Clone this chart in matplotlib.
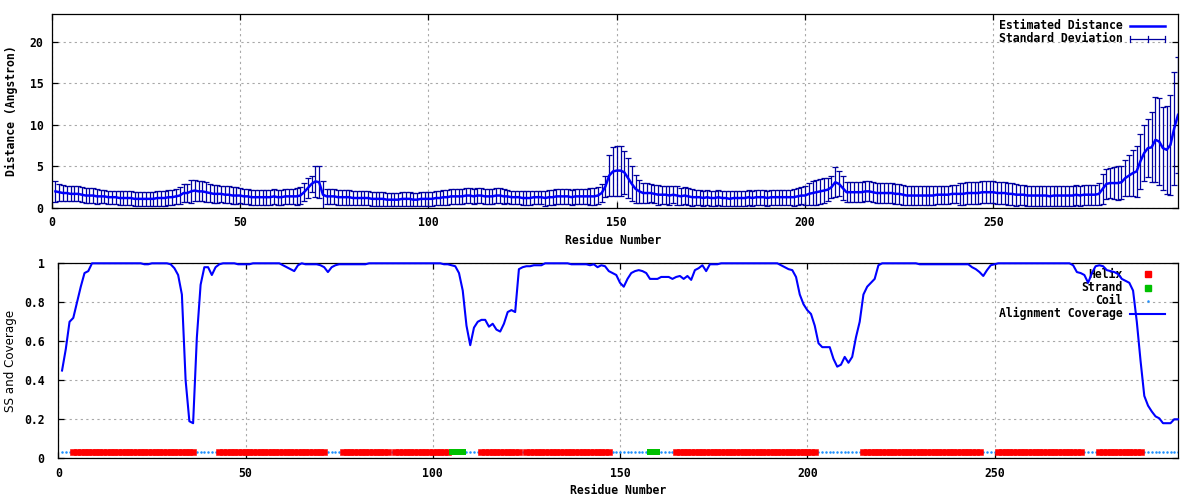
import numpy as np
import matplotlib
matplotlib.use("Agg")
import matplotlib.pyplot as plt
from matplotlib.lines import Line2D

# ---------------- data ----------------
distance = [
    2.0, 1.9, 1.8, 1.8, 1.7, 1.7, 1.7, 1.6, 1.5, 1.5,
    1.5, 1.4, 1.4, 1.4, 1.3, 1.3, 1.3, 1.2, 1.2, 1.2,
    1.2, 1.1, 1.1, 1.1, 1.1, 1.1, 1.1, 1.2, 1.2, 1.2,
    1.3, 1.3, 1.4, 1.5, 1.8, 1.8, 2.0, 2.1, 2.0, 2.0,
    1.9, 1.8, 1.7, 1.7, 1.7, 1.6, 1.6, 1.5, 1.5, 1.5,
    1.4, 1.4, 1.3, 1.3, 1.3, 1.3, 1.3, 1.3, 1.4, 1.3,
    1.3, 1.4, 1.4, 1.4, 1.4, 1.5, 1.9, 2.4, 2.9, 3.2,
    3.1, 1.6, 1.4, 1.4, 1.4, 1.3, 1.3, 1.3, 1.3, 1.2,
    1.2, 1.2, 1.2, 1.2, 1.1, 1.1, 1.1, 1.1, 1.0, 1.0,
    1.0, 1.0, 1.1, 1.1, 1.1, 1.0, 1.0, 1.1, 1.1, 1.1,
    1.1, 1.2, 1.2, 1.3, 1.3, 1.4, 1.4, 1.4, 1.4, 1.5,
    1.5, 1.4, 1.5, 1.5, 1.4, 1.4, 1.4, 1.5, 1.5, 1.4,
    1.4, 1.3, 1.3, 1.3, 1.2, 1.2, 1.2, 1.3, 1.3, 1.3,
    1.2, 1.3, 1.3, 1.4, 1.4, 1.4, 1.4, 1.3, 1.4, 1.4,
    1.4, 1.4, 1.4, 1.4, 1.5, 1.8, 2.6, 3.9, 4.4, 4.5,
    4.5, 4.3, 3.6, 2.9, 2.3, 2.0, 1.8, 1.8, 1.8, 1.7,
    1.6, 1.6, 1.6, 1.5, 1.6, 1.5, 1.4, 1.5, 1.4, 1.3,
    1.3, 1.3, 1.2, 1.3, 1.2, 1.2, 1.3, 1.2, 1.2, 1.1,
    1.2, 1.2, 1.2, 1.2, 1.3, 1.2, 1.3, 1.3, 1.3, 1.2,
    1.3, 1.3, 1.3, 1.3, 1.3, 1.3, 1.3, 1.4, 1.5, 1.5,
    1.7, 1.8, 1.9, 2.0, 2.1, 2.2, 2.5, 3.1, 2.9, 2.4,
    1.9, 1.9, 1.9, 1.9, 1.9, 2.0, 2.0, 1.9, 1.8, 1.8,
    1.8, 1.8, 1.8, 1.7, 1.7, 1.6, 1.5, 1.5, 1.5, 1.5,
    1.5, 1.5, 1.5, 1.5, 1.6, 1.6, 1.6, 1.6, 1.7, 1.7,
    1.7, 1.7, 1.8, 1.8, 1.8, 1.8, 1.9, 1.9, 1.9, 1.9,
    1.8, 1.8, 1.8, 1.7, 1.7, 1.6, 1.6, 1.6, 1.5, 1.5,
    1.5, 1.5, 1.5, 1.5, 1.4, 1.5, 1.5, 1.5, 1.5, 1.5,
    1.5, 1.6, 1.5, 1.6, 1.6, 1.6, 1.6, 1.7, 2.3, 2.9,
    3.0, 3.0, 3.0, 3.1, 3.6, 3.9, 4.2, 4.4, 5.6, 6.6,
    7.2, 7.3, 8.2, 8.0, 7.2, 7.0, 7.6, 9.6, 11.2,
]

std_dev = [
    1.3, 1.0, 1.0, 0.9, 0.9, 0.9, 0.9, 0.9, 0.9, 0.9,
    0.9, 0.9, 0.8, 0.8, 0.8, 0.8, 0.8, 0.8, 0.8, 0.8,
    0.8, 0.8, 0.8, 0.8, 0.8, 0.8, 0.8, 0.9, 0.9, 0.9,
    0.9, 0.9, 0.9, 1.0, 1.1, 1.1, 1.4, 1.3, 1.2, 1.2,
    1.2, 1.1, 1.1, 1.1, 1.0, 1.0, 1.0, 1.0, 1.0, 0.9,
    0.9, 0.9, 0.9, 0.9, 0.9, 0.9, 0.9, 0.9, 0.9, 0.9,
    0.9, 0.9, 0.9, 0.9, 1.0, 1.0, 1.1, 1.2, 1.0, 1.9,
    1.9, 1.7, 0.9, 0.9, 0.9, 0.9, 0.9, 0.9, 0.9, 0.8,
    0.8, 0.8, 0.8, 0.8, 0.8, 0.8, 0.8, 0.8, 0.8, 0.8,
    0.8, 0.8, 0.8, 0.8, 0.8, 0.8, 0.8, 0.8, 0.8, 0.8,
    0.8, 0.8, 0.8, 0.9, 0.9, 0.9, 0.9, 0.9, 0.9, 0.9,
    0.9, 0.9, 0.9, 0.9, 0.9, 0.9, 0.9, 0.9, 0.9, 0.9,
    0.8, 0.8, 0.8, 0.8, 0.8, 0.8, 0.8, 0.8, 0.8, 0.8,
    0.9, 0.9, 0.9, 0.9, 0.9, 0.9, 0.9, 0.9, 0.9, 0.9,
    0.9, 0.9, 1.0, 1.0, 1.0, 1.1, 1.3, 2.5, 2.9, 3.0,
    3.0, 2.6, 2.4, 2.1, 1.7, 1.4, 1.2, 1.2, 1.1, 1.1,
    1.2, 1.1, 1.1, 1.1, 1.0, 1.1, 1.0, 1.0, 1.0, 1.0,
    0.9, 0.9, 0.9, 0.9, 0.9, 0.9, 0.9, 0.9, 0.9, 0.9,
    0.9, 0.9, 0.9, 0.9, 0.9, 0.9, 0.9, 0.9, 0.9, 0.9,
    0.9, 0.9, 0.9, 0.9, 0.9, 0.9, 1.0, 1.0, 1.0, 1.1,
    1.3, 1.4, 1.5, 1.5, 1.5, 1.4, 1.3, 1.8, 1.5, 1.4,
    1.2, 1.2, 1.2, 1.2, 1.2, 1.2, 1.2, 1.2, 1.2, 1.2,
    1.2, 1.2, 1.2, 1.2, 1.2, 1.2, 1.1, 1.1, 1.1, 1.1,
    1.1, 1.1, 1.1, 1.1, 1.1, 1.1, 1.1, 1.1, 1.1, 1.1,
    1.3, 1.3, 1.3, 1.3, 1.3, 1.3, 1.3, 1.3, 1.3, 1.3,
    1.3, 1.3, 1.3, 1.3, 1.3, 1.3, 1.2, 1.2, 1.2, 1.2,
    1.2, 1.2, 1.2, 1.2, 1.2, 1.2, 1.2, 1.2, 1.2, 1.2,
    1.2, 1.2, 1.2, 1.2, 1.2, 1.2, 1.2, 1.3, 1.8, 1.8,
    1.8, 1.9, 2.0, 2.0, 2.2, 2.5, 2.8, 3.1, 3.3, 3.4,
    3.5, 4.2, 5.1, 5.2, 5.0, 5.3, 6.0, 6.8, 7.0,
]

coverage = [
    0.45, 0.56, 0.70, 0.72, 0.80, 0.88, 0.95, 0.96, 1.0, 1.0,
    1.0, 1.0, 1.0, 1.0, 1.0, 1.0, 1.0, 1.0, 1.0, 1.0,
    1.0, 1.0, 0.995, 0.995, 1.0, 1.0, 1.0, 1.0, 1.0, 0.995,
    0.975, 0.94, 0.84, 0.40, 0.19, 0.18, 0.62, 0.89, 0.98, 0.98,
    0.94, 0.98, 0.995, 1.0, 1.0, 1.0, 1.0, 0.995, 0.995, 0.995,
    0.995, 1.0, 1.0, 1.0, 1.0, 1.0, 1.0, 1.0, 1.0, 0.99,
    0.98, 0.97, 0.96, 0.99, 1.0, 0.995, 0.995, 0.995, 0.995, 0.99,
    0.98, 0.955, 0.98, 0.99, 0.995, 0.995, 0.995, 0.995, 0.995, 0.995,
    0.995, 0.995, 1.0, 1.0, 1.0, 1.0, 1.0, 1.0, 1.0, 1.0,
    1.0, 1.0, 1.0, 1.0, 1.0, 1.0, 1.0, 1.0, 1.0, 1.0,
    1.0, 1.0, 0.995, 0.995, 0.99, 0.985, 0.95, 0.86, 0.68, 0.58,
    0.67, 0.70, 0.71, 0.71, 0.675, 0.69, 0.66, 0.65, 0.69, 0.75,
    0.76, 0.75, 0.97, 0.98, 0.985, 0.985, 0.99, 0.99, 0.99, 1.0,
    1.0, 1.0, 1.0, 1.0, 1.0, 1.0, 0.995, 0.995, 0.995, 0.995,
    0.995, 0.99, 0.995, 0.98, 0.99, 0.985, 0.96, 0.95, 0.94, 0.90,
    0.88, 0.92, 0.95, 0.96, 0.965, 0.96, 0.95, 0.92, 0.92, 0.92,
    0.93, 0.93, 0.93, 0.92, 0.93, 0.935, 0.92, 0.935, 0.915, 0.965,
    0.975, 0.99, 0.96, 0.995, 0.995, 0.995, 1.0, 1.0, 1.0, 1.0,
    1.0, 1.0, 1.0, 1.0, 1.0, 1.0, 1.0, 1.0, 1.0, 1.0,
    1.0, 1.0, 0.99, 0.98, 0.97, 0.965, 0.93, 0.84, 0.79, 0.76,
    0.74, 0.68, 0.59, 0.57, 0.57, 0.57, 0.51, 0.47, 0.48, 0.52,
    0.49, 0.52, 0.62, 0.70, 0.84, 0.88, 0.90, 0.92, 0.99, 1.0,
    1.0, 1.0, 1.0, 1.0, 1.0, 1.0, 1.0, 1.0, 1.0, 0.995,
    0.995, 0.995, 0.995, 0.995, 0.995, 0.995, 0.995, 0.995, 0.995, 0.995,
    0.995, 0.995, 0.995, 0.98, 0.97, 0.955, 0.935, 0.965, 0.99, 0.995,
    1.0, 1.0, 1.0, 1.0, 1.0, 1.0, 1.0, 1.0, 1.0, 1.0,
    1.0, 1.0, 1.0, 1.0, 1.0, 1.0, 1.0, 1.0, 1.0, 1.0,
    0.99, 0.955, 0.95, 0.94, 0.90, 0.95, 0.985, 0.99, 0.985, 0.965,
    0.96, 0.955, 0.945, 0.92, 0.91, 0.90, 0.86, 0.70, 0.50, 0.32,
    0.27, 0.24, 0.215, 0.205, 0.18, 0.18, 0.18, 0.20, 0.20,
]

# secondary structure, run-length encoded (type, length)
ss_runs = [("C", 3), ("H", 33), ("C", 6), ("H", 29), ("C", 4), ("H", 13),
           ("C", 1), ("H", 15), ("E", 4), ("C", 4), ("H", 11), ("C", 1),
           ("H", 23), ("C", 10), ("E", 3), ("C", 4), ("H", 38), ("C", 12),
           ("H", 32), ("C", 4), ("H", 23), ("C", 4), ("H", 12), ("C", 10)]
ss_level = 0.03

x_ticks = [0, 50, 100, 150, 200, 250]
top_y_ticks = [0, 5, 10, 15, 20]
bot_y_ticks = [0, 0.2, 0.4, 0.6, 0.8, 1]
bot_y_labels = ["0", "0.2", "0.4", "0.6", "0.8", "1"]

# ---------------- styling ----------------
residues = np.arange(1, len(distance) + 1)
ss = "".join(t * n for t, n in ss_runs)
ss_arr = np.array(list(ss))
cov = np.array(coverage)

MONO = "DejaVu Sans Mono"
FS = 8.3
plt.rcParams["font.family"] = MONO
plt.rcParams["font.weight"] = "bold"
plt.rcParams["font.size"] = FS

fig = plt.figure(figsize=(12, 5), dpi=100)
W, H = 1200.0, 500.0

def axrect(l, t, r, b):
    return [l / W, 1 - b / H, (r - l) / W, (b - t) / H]

ax1 = fig.add_axes(axrect(51.7, 14.3, 1178, 208))
ax2 = fig.add_axes(axrect(58.3, 263.3, 1178, 458.3))

grid_kw = dict(color="#a8a8a8", linestyle=(0, (2, 3)), linewidth=0.8)

for ax in (ax1, ax2):
    for sp in ax.spines.values():
        sp.set_linewidth(0.9)
        sp.set_color("black")
    ax.tick_params(direction="in", length=4.5, width=0.9, top=True, right=True,
                   labelsize=FS, colors="black")
    ax.set_xticks(x_ticks)
    ax.grid(True, **grid_kw)
    ax.set_axisbelow(True)
    for lab in ax.get_xticklabels() + ax.get_yticklabels():
        lab.set_fontweight("bold")

# ---- top panel ----
ax1.set_xlim(0, 299)
ax1.set_ylim(0, 23.3)
ax1.set_yticks(top_y_ticks)
ax1.tick_params(axis="x", pad=6)
ax1.tick_params(axis="y", pad=6)
ax1.errorbar(residues, distance, yerr=std_dev, fmt="none", ecolor="#0000a0",
             elinewidth=0.9, capsize=2.0, capthick=0.9, zorder=2)
ax1.plot(residues, distance, color="#0000ff", linewidth=1.8, zorder=3)

# legend (top)
tx = ax1.transAxes
ax1.text(0.9512, 0.9396, "Estimated Distance", transform=tx, ha="right",
         va="center", fontsize=FS, fontweight="bold", zorder=1.5)
ax1.add_line(Line2D([0.9574, 0.9885], [0.9396, 0.9396], transform=tx,
                    color="#0000ff", linewidth=1.8))
ax1.text(0.9512, 0.8725, "Standard Deviation", transform=tx, ha="right",
         va="center", fontsize=FS, fontweight="bold", zorder=1.5)
ax1.add_line(Line2D([0.9574, 0.9885], [0.8725, 0.8725], transform=tx,
                    color="#0000a0", linewidth=0.9))
for xx in (0.9574, 0.973, 0.9885):
    ax1.add_line(Line2D([xx, xx], [0.8725 - 0.014, 0.8725 + 0.014], transform=tx,
                        color="#0000a0", linewidth=0.9))

# ---- bottom panel ----
ax2.set_xlim(0, 299)
ax2.set_ylim(0, 1)
ax2.set_yticks(bot_y_ticks)
ax2.set_yticklabels(bot_y_labels, fontweight="bold")
ax2.tick_params(axis="x", pad=6)
ax2.tick_params(axis="y", pad=10)

coil_mask = ss_arr == "C"
helix_mask = ss_arr == "H"
strand_mask = ss_arr == "E"
ax2.plot(residues[coil_mask], np.full(coil_mask.sum(), ss_level), linestyle="none",
         marker="o", markersize=1.8, color="#1e90ff", markeredgewidth=0, zorder=2)
ax2.plot(residues[helix_mask], np.full(helix_mask.sum(), ss_level), linestyle="none",
         marker="s", markersize=4.4, color="#ff0000", markeredgecolor="#ff0000",
         markeredgewidth=0.4, zorder=2)
ax2.plot(residues[strand_mask], np.full(strand_mask.sum(), ss_level), linestyle="none",
         marker="s", markersize=4.6, color="#00c000", markeredgewidth=0, zorder=2)
ax2.plot(residues, cov, color="#0000ff", linewidth=1.5, zorder=3, clip_on=False)

# legend (bottom)
tx2 = ax2.transAxes
leg_rows = [("Helix", 0.945), ("Strand", 0.875), ("Coil", 0.807),
            ("Alignment Coverage", 0.741)]
for lab, yy in leg_rows:
    ax2.text(0.9506, yy, lab, transform=tx2, ha="right", va="center",
             fontsize=FS, fontweight="bold", zorder=1.5)
ax2.add_line(Line2D([0.973], [0.945], transform=tx2, linestyle="none", marker="s",
                    markersize=4.4, color="#ff0000"))
ax2.add_line(Line2D([0.973], [0.875], transform=tx2, linestyle="none", marker="s",
                    markersize=4.6, color="#00c000"))
ax2.add_line(Line2D([0.973], [0.807], transform=tx2, linestyle="none", marker="o",
                    markersize=1.8, markeredgewidth=0, color="#1e90ff"))
ax2.add_line(Line2D([0.9569, 0.9884], [0.741, 0.741], transform=tx2,
                    color="#0000ff", linewidth=1.5))

# axis labels
fig.text(613 / W, 1 - 240 / H, "Residue Number", ha="center", va="center",
         fontsize=FS, fontweight="bold", family=MONO)
fig.text(618 / W, 1 - 491 / H, "Residue Number", ha="center", va="center",
         fontsize=FS, fontweight="bold", family=MONO)
fig.text(11 / W, 1 - 111 / H, "Distance (Angstron)", ha="center", va="center",
         rotation=90, fontsize=FS, fontweight="bold", family=MONO)
fig.text(11 / W, 1 - 361 / H, "SS and Coverage", ha="center", va="center",
         rotation=90, fontsize=8.6, fontweight="normal", family="DejaVu Sans")

fig.savefig("out.png", dpi=100)
